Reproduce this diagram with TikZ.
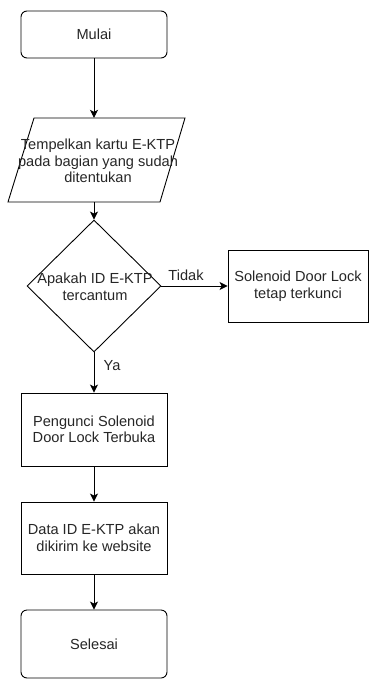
\documentclass[tikz,border=0pt]{standalone}
\usepackage{fontspec}
\setmainfont{Liberation Sans}
\usetikzlibrary{shapes.geometric,arrows.meta}
\begin{document}
\begin{tikzpicture}[x=1pt,y=-1pt,
  every node/.style={font=\fontsize{14.6}{16.5}\selectfont, text=black!85},
  lbl/.style={align=center, inner sep=0pt},
  termbox/.style={draw, line width=0.9pt, rounded corners=6pt, minimum width=146pt, minimum height=47pt, inner sep=0pt},
  procbox/.style={draw, line width=0.9pt, minimum width=146pt, minimum height=73pt, inner sep=0pt, align=center},
  conn/.style={line width=0.9pt, -{Stealth[length=8pt,width=8pt,inset=2pt]}}]
\useasboundingbox (0,0) rectangle (369,679);
\node[termbox] (mulai) at (94,34.5) {Mulai};
\node[inner sep=0pt, minimum width=177pt, minimum height=84pt] (para) at (96.5,160) {};
\coordinate (ptl) at (34,118);
\coordinate (ptr) at (185,118);
\coordinate (pbr) at (160,202);
\coordinate (pbl) at (8,202);
\draw[line width=0.9pt, line join=miter] (ptl) -- (ptr) -- (pbr) -- (pbl) -- cycle;
\node[lbl] (paratext) at (98,161) {Tempelkan kartu E-KTP\\pada bagian yang sudah\\ditentukan};
\node[diamond, draw, line width=0.9pt, minimum width=134pt, minimum height=132pt, inner sep=0pt, aspect=1.015] (dec) at (94,286) {};
\node[lbl] (dectext) at (95,287) {Apakah ID E-KTP\\tercantum};
\node[procbox, minimum width=140pt, minimum height=72pt] (tetap) at (298,286) {Solenoid Door Lock\\tetap terkunci};
\node[procbox] (buka) at (94,429.5) {Pengunci Solenoid\\Door Lock Terbuka};
\node[procbox, minimum height=72pt] (data) at (94,538) {Data ID E-KTP akan\\dikirim ke website};
\node[termbox, minimum height=68pt] (selesai) at (94,644) {Selesai};
\node[lbl] (tidak) at (186,275) {Tidak};
\node[lbl] (ya) at (112,366) {Ya};
\draw[conn] (mulai.south) -- (mulai.south |- para.north);
\draw[conn] (mulai.south |- para.south) -- (dec.north);
\draw[conn] (dec.east) -- (tetap.west);
\draw[conn] (dec.south) -- (buka.north);
\draw[conn] (buka.south) -- (data.north);
\draw[conn] (data.south) -- (selesai.north);
\end{tikzpicture}
\end{document}
